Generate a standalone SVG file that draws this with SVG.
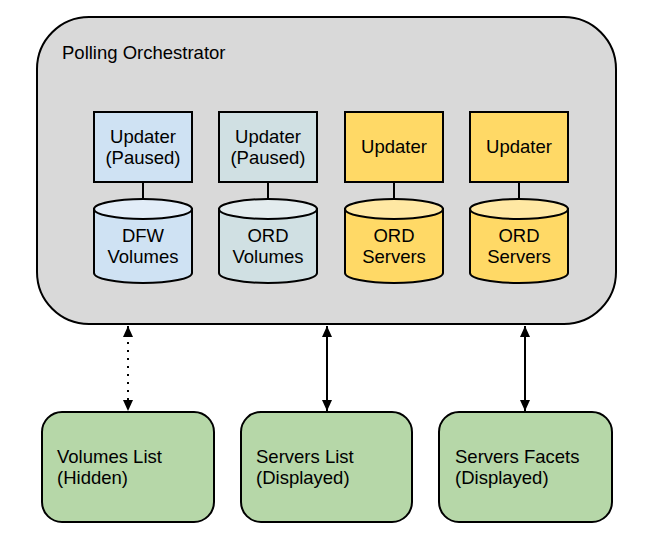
<svg xmlns="http://www.w3.org/2000/svg" width="645" height="544" viewBox="0 0 645 544">
<style>
text{font-family:"Liberation Sans",Arial,sans-serif;font-size:18.5px;fill:#000}
.c{text-anchor:middle}
.o{stroke:#000;stroke-width:2}
.cn{stroke:#000;stroke-width:2;fill:none}
</style>
<defs>
<marker id="ah" markerUnits="userSpaceOnUse" markerWidth="14" markerHeight="14" viewBox="0 0 14 14" refX="12" refY="7" orient="auto-start-reverse">
<path d="M1,2 L12,7 L1,12 Z" fill="#000"/>
</marker>
</defs>
<rect fill="#fff" width="645" height="544"/>
<g id="orchestrator">
<rect class="o" x="37" y="17" width="579" height="307" rx="52" fill="#d9d9d9"/>
<text x="62" y="59">Polling Orchestrator</text>
</g>
<g id="updater1">
<rect class="o" x="94" y="112" width="98" height="70" fill="#cfe2f3"/>
<text class="c" x="143" y="143">Updater</text>
<text class="c" x="143" y="164">(Paused)</text>
</g>
<g id="updater2">
<rect class="o" x="219" y="112" width="98" height="70" fill="#d0e0e3"/>
<text class="c" x="268" y="143">Updater</text>
<text class="c" x="268" y="164">(Paused)</text>
</g>
<g id="updater3">
<rect class="o" x="345" y="112" width="98" height="70" fill="#ffd966"/>
<text class="c" x="394" y="153">Updater</text>
</g>
<g id="updater4">
<rect class="o" x="470" y="112" width="98" height="70" fill="#ffd966"/>
<text class="c" x="519" y="153">Updater</text>
</g>
<g id="db1">
<path class="o" d="M94,209 L94,273 A49,10 0 0 0 192,273 L192,209 Z" fill="#cfe2f3"/>
<ellipse class="o" cx="143" cy="209" rx="49" ry="10" fill="#e2edf8"/>
<text class="c" x="143" y="242">DFW</text>
<text class="c" x="143" y="263">Volumes</text>
</g>
<g id="db2">
<path class="o" d="M219,209 L219,273 A49,10 0 0 0 317,273 L317,209 Z" fill="#d0e0e3"/>
<ellipse class="o" cx="268" cy="209" rx="49" ry="10" fill="#e3ecee"/>
<text class="c" x="268" y="242">ORD</text>
<text class="c" x="268" y="263">Volumes</text>
</g>
<g id="db3">
<path class="o" d="M345,209 L345,273 A49,10 0 0 0 443,273 L443,209 Z" fill="#ffd966"/>
<ellipse class="o" cx="394" cy="209" rx="49" ry="10" fill="#ffe8a3"/>
<text class="c" x="394" y="242">ORD</text>
<text class="c" x="394" y="263">Servers</text>
</g>
<g id="db4">
<path class="o" d="M470,209 L470,273 A49,10 0 0 0 568,273 L568,209 Z" fill="#ffd966"/>
<ellipse class="o" cx="519" cy="209" rx="49" ry="10" fill="#ffe8a3"/>
<text class="c" x="519" y="242">ORD</text>
<text class="c" x="519" y="263">Servers</text>
</g>
<g id="volumes-list">
<rect class="o" x="42" y="412" width="172" height="110" rx="20" fill="#b6d7a8"/>
<text x="57" y="463">Volumes List</text>
<text x="57" y="484">(Hidden)</text>
</g>
<g id="servers-list">
<rect class="o" x="241" y="412" width="171" height="110" rx="20" fill="#b6d7a8"/>
<text x="256" y="463">Servers List</text>
<text x="256" y="484">(Displayed)</text>
</g>
<g id="servers-facets">
<rect class="o" x="439" y="412" width="173" height="110" rx="20" fill="#b6d7a8"/>
<text x="455" y="463">Servers Facets</text>
<text x="455" y="484">(Displayed)</text>
</g>
<g id="connectors">
<line class="cn" x1="143" y1="182" x2="143" y2="199"/>
<line class="cn" x1="268" y1="182" x2="268" y2="199"/>
<line class="cn" x1="394" y1="182" x2="394" y2="199"/>
<line class="cn" x1="519" y1="182" x2="519" y2="199"/>
<line class="cn" x1="128" y1="326" x2="128" y2="411" stroke-dasharray="2,6" marker-start="url(#ah)" marker-end="url(#ah)"/>
<line class="cn" x1="327" y1="326" x2="327" y2="411" marker-start="url(#ah)" marker-end="url(#ah)"/>
<line class="cn" x1="525" y1="326" x2="525" y2="411" marker-start="url(#ah)" marker-end="url(#ah)"/>
</g>
</svg>
